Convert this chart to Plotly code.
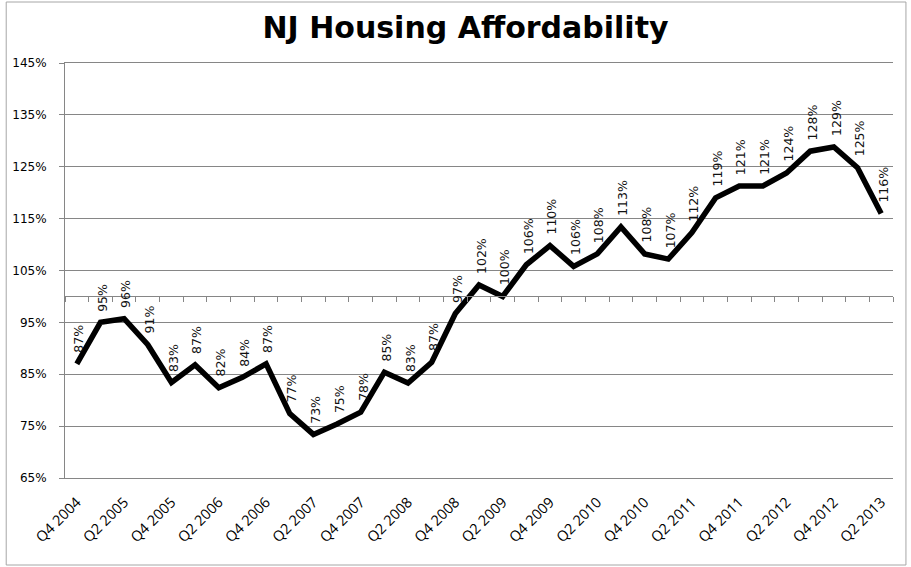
import plotly.graph_objects as go

quarters = [
    "Q4 2004", "Q1 2005", "Q2 2005", "Q3 2005", "Q4 2005", "Q1 2006", "Q2 2006", "Q3 2006",
    "Q4 2006", "Q1 2007", "Q2 2007", "Q3 2007", "Q4 2007", "Q1 2008", "Q2 2008", "Q3 2008",
    "Q4 2008", "Q1 2009", "Q2 2009", "Q3 2009", "Q4 2009", "Q1 2010", "Q2 2010", "Q3 2010",
    "Q4 2010", "Q1 2011", "Q2 2011", "Q3 2011", "Q4 2011", "Q1 2012", "Q2 2012", "Q3 2012",
    "Q4 2012", "Q1 2013", "Q2 2013",
]
affordability = [
    87.0, 95.0, 95.7, 90.7, 83.4, 86.8, 82.4, 84.4, 87.0, 77.4, 73.4, 75.4, 77.7, 85.4, 83.3,
    87.3, 96.7, 102.2, 100.0, 106.1, 109.8, 105.8, 108.2, 113.4, 108.2, 107.2, 112.3, 119.0,
    121.3, 121.3, 123.8, 128.0, 128.8, 124.8, 116.0,
]
y_ticks = [65, 75, 85, 95, 105, 115, 125, 135, 145]
axis_cross = 100

idx = list(range(len(quarters)))
label_idx = idx[::2]
label_text = [quarters[i] for i in label_idx]
boundaries = [i - 0.5 for i in idx] + [idx[-1] + 0.5]
x_range = [idx[0] - 0.5, idx[-1] + 0.5]
y_range = [y_ticks[0], y_ticks[-1]]

GRID = "#868686"
W, H = 911, 567
ML, MR, MT, MB = 62, 18, 63, 89

fig = go.Figure()
fig.add_trace(go.Scatter(
    x=idx, y=affordability, mode="lines",
    line=dict(color="black", width=5.5),
    hoverinfo="skip", showlegend=False,
))
fig.add_trace(go.Scatter(
    x=idx, y=affordability, mode="none", xaxis="x2",
    hoverinfo="skip", showlegend=False,
))

for i, v in zip(idx, affordability):
    fig.add_annotation(
        x=i, y=v, text=f"{round(v)}%", textangle=-90, showarrow=False,
        yanchor="bottom", xanchor="center", yshift=9, xshift=2,
        font=dict(family="DejaVu Sans", size=12.5, color="#111"),
    )

pos_cross = (axis_cross - y_range[0]) / (y_range[1] - y_range[0])

fig.update_layout(
    width=W, height=H,
    margin=dict(l=ML, r=MR, t=MT, b=MB),
    paper_bgcolor="white", plot_bgcolor="white",
    title=dict(
        text="NJ Housing Affordability",
        x=0.511, xanchor="center", y=1 - 27 / H, yanchor="middle", yref="container",
        font=dict(family="DejaVu Sans", size=30, color="black", weight="bold"),
    ),
    xaxis=dict(
        range=x_range, tickmode="array", tickvals=label_idx, ticktext=label_text,
        tickangle=-45, ticks="", showgrid=False, zeroline=False,
        showline=True, mirror=True, linecolor=GRID, linewidth=1,
        tickfont=dict(family="Open Sans", size=14.5, color="black"),
        ticklabelstandoff=9,
    ),
    xaxis2=dict(
        overlaying="x", anchor="free", position=pos_cross, range=x_range,
        tickmode="array", tickvals=boundaries, showticklabels=False,
        ticks="outside", ticklen=5, tickcolor=GRID, showgrid=False, zeroline=False,
        showline=True, linecolor=GRID, linewidth=1,
    ),
    yaxis=dict(
        range=y_range, tickmode="array", tickvals=y_ticks,
        ticktext=[f"{t}%" for t in y_ticks],
        showgrid=True, gridcolor=GRID, gridwidth=1, zeroline=False,
        showline=True, linecolor=GRID, linewidth=1,
        ticks="outside", ticklen=5, tickcolor=GRID,
        tickfont=dict(family="DejaVu Sans", size=12, color="black"),
        ticklabelstandoff=10,
    ),
)

pw = W - ML - MR
ph = H - MT - MB
fig.add_shape(
    type="rect", xref="paper", yref="paper",
    x0=(3 - ML) / pw, x1=(906 - ML) / pw,
    y0=(H - MB - 565) / ph, y1=(H - MB - 2) / ph,
    line=dict(color="#a6a6a6", width=1), fillcolor="rgba(0,0,0,0)", layer="below",
)

fig.write_html(
    "out.html",
    config={"displayModeBar": False},
    post_script="document.body.style.margin='0px';document.body.style.overflow='hidden';",
)
